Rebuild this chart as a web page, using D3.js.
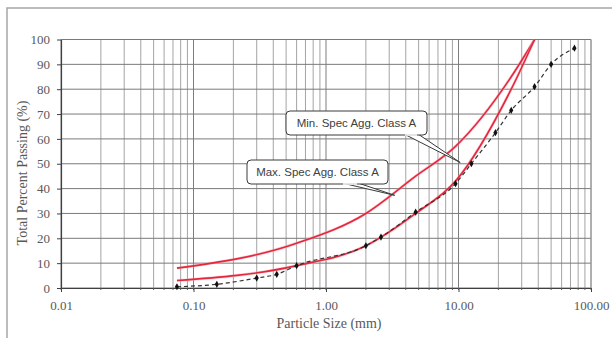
<!DOCTYPE html>
<html>
<head>
<meta charset="utf-8">
<script src="https://cdnjs.cloudflare.com/ajax/libs/d3/7.8.5/d3.min.js"></script>
<style>
  body { margin: 0; background: #fff; }
  svg { display: block; }
</style>
</head>
<body>
<div class="visualization"></div>
<script>
'use strict';

// sieve sizes (mm) and percent passing
var maxSpecSize    = [0.075, 0.6, 2.0, 4.75, 9.5, 25, 37.5];
var maxSpecPassing = [8, 18, 30, 45, 57, 85, 100];

var minSpecSize    = [0.075, 0.6, 2.0, 4.75, 9.5, 25, 37.5];
var minSpecPassing = [3, 9, 17, 30, 43, 80, 100];

var sampleSize     = [0.075, 0.15, 0.3, 0.425, 0.6, 2.0, 2.6, 4.75, 9.5, 12.5, 19, 25, 37.5, 50, 75];
var samplePassing  = [0.5, 1.5, 4, 5.5, 9, 17, 20.5, 30.5, 42, 50, 62.5, 71.5, 81, 90, 96.5];

var xTickValues = [0.01, 0.1, 1, 10, 100];
var yTickValues = [0, 10, 20, 30, 40, 50, 60, 70, 80, 90, 100];

var callouts = [
  { label: 'Min. Spec Agg. Class A', size: 10.3, passing: 50.5 },
  { label: 'Max. Spec Agg. Class A', size: 3.3, passing: 37.3 }
];

var width  = 612;
var height = 338;
var plot   = { left: 61, right: 591, top: 39.5, bottom: 288 };

var svg = d3.select('.visualization')
  .append('svg')
  .attr('width', width)
  .attr('height', height);

// chart frame (runs off the right and bottom of the picture)
svg.append('rect')
  .attr('x', 7)
  .attr('y', 8)
  .attr('width', 640)
  .attr('height', 360)
  .attr('fill', 'none')
  .attr('stroke', '#a6a6a6')
  .attr('stroke-width', 1.5);

var x = d3.scaleLog().domain([0.01, 100]).range([plot.left, plot.right]);
var y = d3.scaleLinear().domain([0, 100]).range([plot.bottom, plot.top]);

// GRID: every log minor step, and every 10 %
var xGrid = x.ticks();
svg.append('g')
  .selectAll('line')
  .data(xGrid)
  .enter().append('line')
  .attr('x1', function(d){ return x(d); })
  .attr('x2', function(d){ return x(d); })
  .attr('y1', plot.top)
  .attr('y2', plot.bottom)
  .attr('stroke', function(d){
    return xTickValues.indexOf(d) > -1 ? '#6e6e6e' : '#9a9a9a';
  })
  .attr('stroke-width', 0.9);

svg.append('g')
  .selectAll('line')
  .data(yTickValues)
  .enter().append('line')
  .attr('x1', plot.left)
  .attr('x2', plot.right)
  .attr('y1', function(d){ return y(d); })
  .attr('y2', function(d){ return y(d); })
  .attr('stroke', '#7a7a7a')
  .attr('stroke-width', 1);

// right edge of the plot
svg.append('line')
  .attr('x1', plot.right).attr('x2', plot.right)
  .attr('y1', plot.top).attr('y2', plot.bottom)
  .attr('stroke', '#a0a0a0');

// AXES
var fmt = d3.format('.2f');

var xAxis = svg.append('g')
  .attr('transform', 'translate(0,' + plot.bottom + ')')
  .call(d3.axisBottom(x)
    .tickValues(xTickValues)
    .tickFormat(function(d){ return fmt(d); })
    .tickSizeInner(4)
    .tickSizeOuter(0)
    .tickPadding(8.8));

// minor ticks under the x axis
svg.append('g')
  .selectAll('line')
  .data(xGrid)
  .enter().append('line')
  .attr('x1', function(d){ return x(d); })
  .attr('x2', function(d){ return x(d); })
  .attr('y1', plot.bottom)
  .attr('y2', plot.bottom + 2)
  .attr('stroke', '#595959');

var yAxis = svg.append('g')
  .attr('transform', 'translate(' + plot.left + ',0)')
  .call(d3.axisLeft(y)
    .tickValues(yTickValues)
    .tickSizeInner(4)
    .tickSizeOuter(0)
    .tickPadding(7));

[xAxis, yAxis].forEach(function(axis){
  axis.select('.domain').attr('stroke', '#404040').attr('stroke-width', 1.2);
  axis.selectAll('.tick line').attr('stroke', '#404040');
  axis.selectAll('.tick text')
    .attr('fill', '#595959')
    .style('font-family', '"Liberation Serif", "Times New Roman", serif')
    .style('font-size', '13px');
});

// axis titles
svg.append('text')
  .attr('transform', 'translate(22,173) rotate(-90)')
  .attr('text-anchor', 'middle')
  .attr('dominant-baseline', 'central')
  .attr('fill', '#595959')
  .style('font-family', '"Liberation Serif", "Times New Roman", serif')
  .style('font-size', '14px')
  .text('Total Percent Passing (%)');

svg.append('text')
  .attr('x', 329)
  .attr('y', 328)
  .attr('text-anchor', 'middle')
  .attr('fill', '#595959')
  .style('font-family', '"Liberation Serif", "Times New Roman", serif')
  .style('font-size', '14px')
  .text('Particle Size (mm)');

// SERIES
var line = d3.line()
  .x(function(d){ return x(d[0]); })
  .y(function(d){ return y(d[1]); })
  .curve(d3.curveMonotoneX);

var maxSpec = d3.zip(maxSpecSize, maxSpecPassing);
var minSpec = d3.zip(minSpecSize, minSpecPassing);
var sample  = d3.zip(sampleSize, samplePassing);

[maxSpec, minSpec].forEach(function(series){
  // soft halo then the red line
  svg.append('path')
    .datum(series)
    .attr('d', line)
    .attr('fill', 'none')
    .attr('stroke', '#f4a6b0')
    .attr('stroke-width', 3)
    .attr('opacity', 0.5);
  svg.append('path')
    .datum(series)
    .attr('d', line)
    .attr('fill', 'none')
    .attr('stroke', '#e4273d')
    .attr('stroke-width', 1.6);
});

svg.append('path')
  .datum(sample)
  .attr('d', line)
  .attr('fill', 'none')
  .attr('stroke', '#333')
  .attr('stroke-width', 1.2)
  .attr('stroke-dasharray', '4,3');

svg.append('g')
  .selectAll('path')
  .data(sample)
  .enter().append('path')
  .attr('transform', function(d){ return 'translate(' + x(d[0]) + ',' + y(d[1]) + ')'; })
  .attr('d', d3.symbol().type(d3.symbolDiamond).size(15))
  .attr('fill', '#111');

// CALLOUTS: wedge boxes pointing at the curves
var boxes = [
  { x: 286, y: 111, w: 141, h: 24, wedge: [404, 418] },
  { x: 247, y: 160, w: 141, h: 24, wedge: [342, 358] }
];

callouts.forEach(function(c, i){
  var b = boxes[i];
  var tipX = x(c.size);
  var tipY = y(c.passing);

  svg.append('path')
    .attr('d', 'M' + b.wedge[0] + ',' + (b.y + b.h - 1) +
      'L' + tipX + ',' + tipY +
      'L' + b.wedge[1] + ',' + (b.y + b.h - 1))
    .attr('fill', '#fff')
    .attr('stroke', '#3a3a3a')
    .attr('stroke-width', 1);

  svg.append('rect')
    .attr('x', b.x)
    .attr('y', b.y)
    .attr('width', b.w)
    .attr('height', b.h)
    .attr('rx', 4)
    .attr('fill', '#fff')
    .attr('stroke', '#3a3a3a')
    .attr('stroke-width', 1);

  // cover the box edge where the wedge joins
  svg.append('line')
    .attr('x1', b.wedge[0] + 1).attr('x2', b.wedge[1] - 1)
    .attr('y1', b.y + b.h).attr('y2', b.y + b.h)
    .attr('stroke', '#fff')
    .attr('stroke-width', 1.5);

  svg.append('text')
    .attr('x', b.x + b.w / 2)
    .attr('y', b.y + b.h / 2)
    .attr('text-anchor', 'middle')
    .attr('dominant-baseline', 'central')
    .attr('fill', '#404040')
    .style('font-family', '"Liberation Sans", Arial, sans-serif')
    .style('font-size', '11.5px')
    .text(c.label);
});
</script>
</body>
</html>
